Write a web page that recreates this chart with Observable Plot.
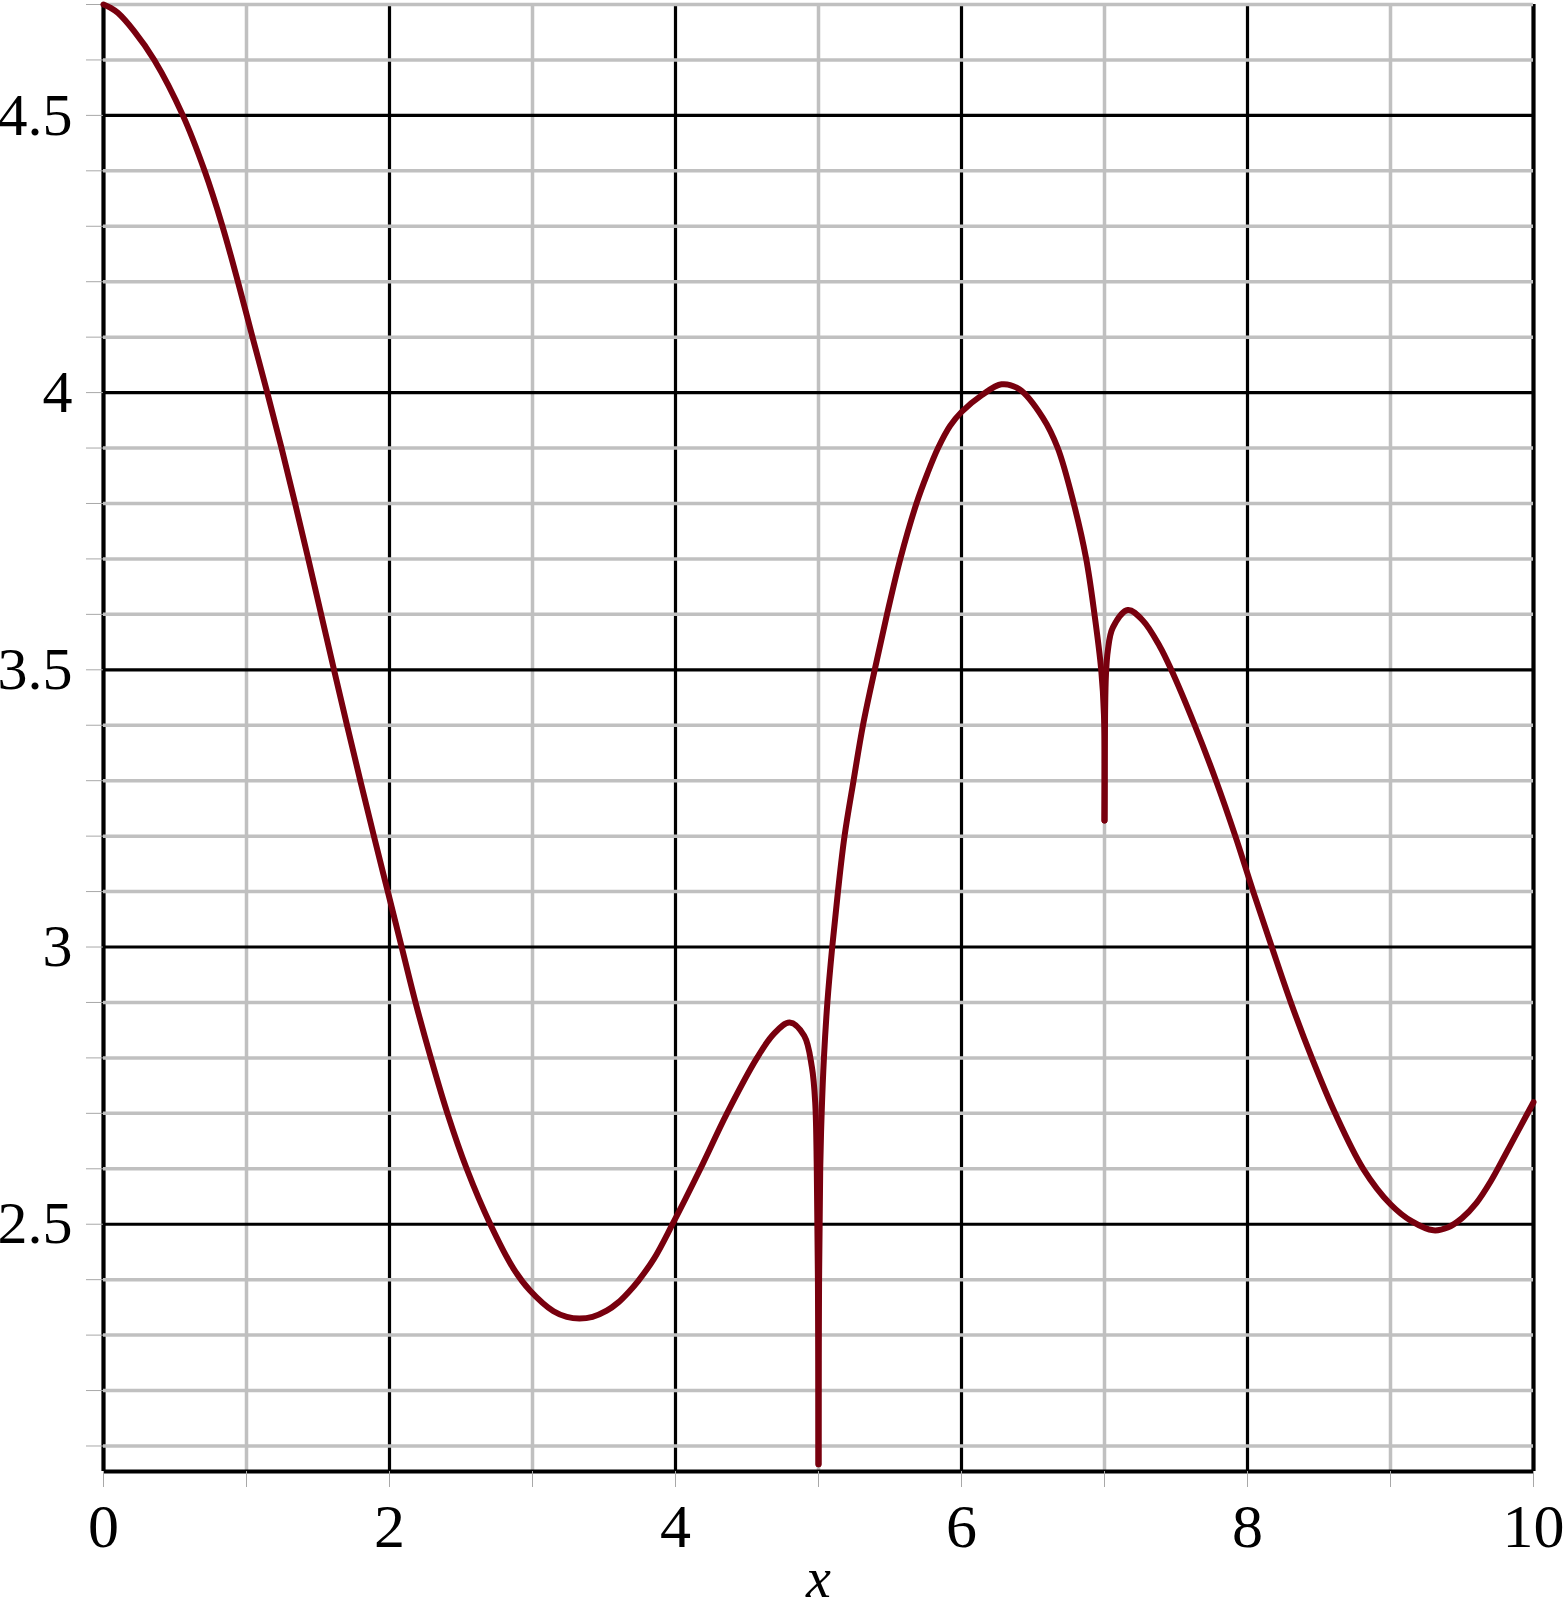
<!DOCTYPE html>
<html>
<head>
<meta charset="utf-8">
<script src="https://cdn.jsdelivr.net/npm/d3@7"></script>
<script src="https://cdn.jsdelivr.net/npm/@observablehq/plot@0.6"></script>
<style>
  html, body { margin: 0; padding: 0; background: #ffffff; }
  #chart svg { display: block; }
</style>
</head>
<body>
<div id="chart"></div>
<script>
// ---- data (three smooth pieces joined at the cusps x=5 and x=7) ----
const xPiece1 = [
  0, 0.05, 0.10, 0.214, 0.355, 0.555, 0.707, 0.832, 0.940, 1.042,
  1.145, 1.245, 1.340, 1.432, 1.522, 1.612, 1.703, 1.796, 1.891, 1.988,
  2.085, 2.182, 2.289, 2.405, 2.540, 2.705, 2.867, 2.984, 3.147, 3.240,
  3.328, 3.420, 3.519, 3.600, 3.670, 3.740, 3.850, 3.979, 4.174, 4.360,
  4.570, 4.686, 4.798, 4.900, 4.954, 4.977, 4.988, 4.996, 5.000
];
const yPiece1 = [
  4.700, 4.694, 4.685, 4.652, 4.600, 4.500, 4.400, 4.300, 4.200, 4.100,
  4.000, 3.900, 3.800, 3.700, 3.600, 3.500, 3.400, 3.300, 3.200, 3.100,
  3.000, 2.900, 2.800, 2.700, 2.600, 2.500, 2.420, 2.380, 2.343, 2.333,
  2.330, 2.333, 2.344, 2.359, 2.377, 2.398, 2.438, 2.500, 2.600, 2.700,
  2.800, 2.843, 2.864, 2.840, 2.783, 2.720, 2.600, 2.400, 2.067
];
const xPiece2 = [
  5.000, 5.004, 5.012, 5.022, 5.038, 5.062, 5.096, 5.136, 5.182, 5.245,
  5.311, 5.393, 5.479, 5.572, 5.685, 5.760, 5.836, 5.920, 6.000, 6.140,
  6.280, 6.405, 6.568, 6.673, 6.785, 6.872, 6.930, 6.977, 6.996, 7.000
];
const yPiece2 = [
  2.067, 2.400, 2.600, 2.700, 2.800, 2.900, 3.000, 3.100, 3.200, 3.300,
  3.400, 3.500, 3.600, 3.700, 3.800, 3.853, 3.900, 3.940, 3.965, 3.995,
  4.015, 4.006, 3.955, 3.900, 3.800, 3.700, 3.600, 3.500, 3.420, 3.228
];
const xPiece3 = [
  7.000, 7.004, 7.010, 7.023, 7.058, 7.163, 7.268, 7.385, 7.467, 7.631,
  7.780, 7.915, 8.040, 8.170, 8.303, 8.450, 8.613, 8.809, 9.000, 9.150,
  9.300, 9.400, 9.500, 9.600, 9.700, 9.800, 9.900, 10.000
];
const yPiece3 = [
  3.228, 3.420, 3.490, 3.534, 3.576, 3.608, 3.589, 3.543, 3.500, 3.400,
  3.300, 3.200, 3.100, 3.000, 2.900, 2.800, 2.700, 2.600, 2.536, 2.505,
  2.489, 2.494, 2.511, 2.538, 2.577, 2.624, 2.672, 2.720
];

const xDomain = [0, 10];
const yDomain = [2.054, 4.7];

const xMajorGrid = [2, 4, 6, 8];
const xEdges = [0, 10];
const xMinorGrid = [1, 3, 5, 7, 9];
const yMajorGrid = [2.5, 3, 3.5, 4, 4.5];
const yMinorGrid = [2.1, 2.2, 2.3, 2.4, 2.6, 2.7, 2.8, 2.9, 3.1, 3.2, 3.3, 3.4,
                    3.6, 3.7, 3.8, 3.9, 4.1, 4.2, 4.3, 4.4, 4.6, 4.7];

const xTickMarks = [0, 1, 2, 3, 4, 5, 6, 7, 8, 9, 10];
const yTickMarks = [2.1, 2.2, 2.3, 2.4, 2.5, 2.6, 2.7, 2.8, 2.9, 3, 3.1, 3.2, 3.3, 3.4,
                    3.5, 3.6, 3.7, 3.8, 3.9, 4, 4.1, 4.2, 4.3, 4.4, 4.5, 4.6, 4.7];
const xTickLabels = [0, 2, 4, 6, 8, 10];
const yTickLabels = [2.5, 3, 3.5, 4, 4.5];
const xAxisTitle = ["x"];

const points = [
  ...xPiece1.map((x, i) => ({x, y: yPiece1[i], piece: 1})),
  ...xPiece2.map((x, i) => ({x, y: yPiece2[i], piece: 2})),
  ...xPiece3.map((x, i) => ({x, y: yPiece3[i], piece: 3}))
];

const serif = "'Liberation Serif', 'Times New Roman', serif";

const chart = Plot.plot({
  width: 1563,
  height: 1609,
  marginTop: 4,
  marginBottom: 138,
  marginLeft: 103,
  marginRight: 30,
  x: {domain: xDomain, label: null},
  y: {domain: yDomain, label: null},
  style: {fontFamily: serif, background: "white", overflow: "visible"},
  marks: [
    // vertical grid
    Plot.ruleX(xMinorGrid, {stroke: "#c0c0c0", strokeWidth: 3.5}),
    Plot.ruleX(xMajorGrid, {stroke: "#000000", strokeWidth: 3.2}),
    Plot.ruleX(xEdges, {stroke: "#000000", strokeWidth: 4.2}),
    // horizontal grid
    Plot.ruleY(yMinorGrid, {stroke: "#c0c0c0", strokeWidth: 3.5}),
    Plot.ruleY(yMajorGrid, {stroke: "#000000", strokeWidth: 3.2}),
    // bottom frame line
    Plot.ruleY([yDomain[0]], {stroke: "#000000", strokeWidth: 4.2}),
    // tick marks
    Plot.axisY({ticks: yTickMarks, anchor: "left", tickSize: 17, tickFormat: () => "",
                stroke: "#a8a8a8", strokeWidth: 1, label: null}),
    Plot.axisX({ticks: xTickMarks, anchor: "bottom", tickSize: 16, tickFormat: () => "",
                stroke: "#a8a8a8", strokeWidth: 1, label: null}),
    // tick labels
    Plot.axisY({ticks: yTickLabels, anchor: "left", tickSize: 0, tickPadding: 31,
                fontSize: 60, fontFamily: serif, tickFormat: d => String(d), label: null}),
    Plot.axisX({ticks: xTickLabels, anchor: "bottom", tickSize: 0, tickPadding: 31,
                fontSize: 62, fontFamily: serif, tickFormat: d => String(d), label: null}),
    // axis title
    Plot.text(xAxisTitle, {text: d => d, frameAnchor: "bottom", dy: 108, lineAnchor: "middle",
                           fontSize: 56, fontStyle: "italic", fontFamily: serif, fill: "#000"}),
    // the curve
    Plot.line(points, {x: "x", y: "y", z: "piece", stroke: "#78000e", strokeWidth: 6,
                       curve: "catmull-rom", strokeLinejoin: "round", strokeLinecap: "round"})
  ]
});

document.getElementById("chart").appendChild(chart);
</script>
</body>
</html>
